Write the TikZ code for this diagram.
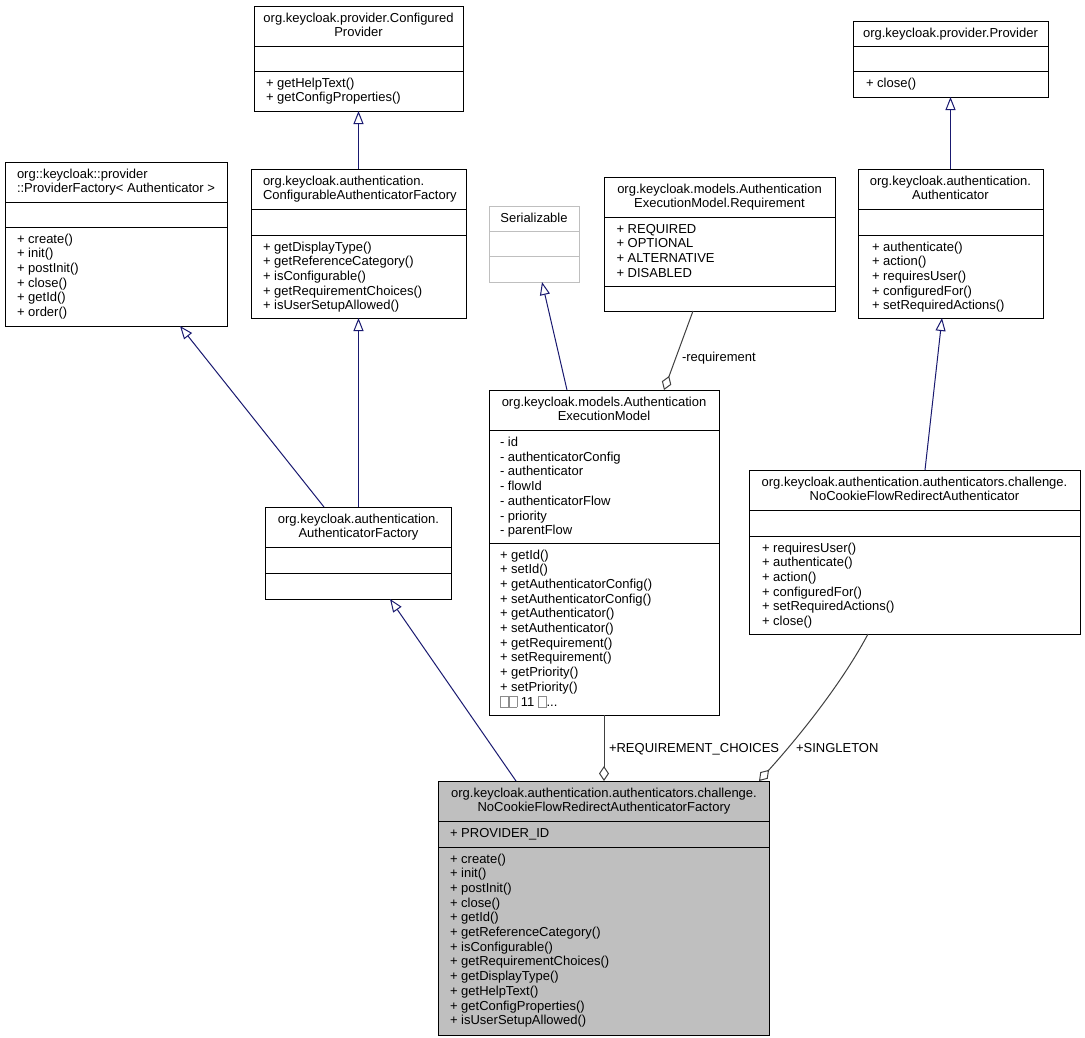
\documentclass[tikz,border=0pt]{standalone}
\usepackage{fontspec}
\setmainfont{Liberation Sans}
\usetikzlibrary{arrows.meta}
\definecolor{navyedge}{HTML}{191970}
\definecolor{grayedge}{HTML}{404040}
\definecolor{factfill}{HTML}{BFBFBF}
\definecolor{lightborder}{HTML}{BFBFBF}
\newcommand\threedots{...}
\newcommand\gb{\raisebox{-1pt}{\setlength\fboxsep{0pt}\setlength\fboxrule{0.7pt}\color{black!45}\fbox{\rule{0pt}{10.6pt}\hspace{7.2pt}}}}
\newcommand\clsbox[8]{%
  \node[umlbox,#8,minimum width={#4-#2},minimum height={#5-#3},anchor=north west] (#1) at (#2,#3) {};
  \draw[umlsep,#8,fill=none] (#2,#6) -- (#4,#6);
  \draw[umlsep,#8,fill=none] (#2,#7) -- (#4,#7);
}
\newcommand\tlines[5]{%
  \foreach \mytext [count=\myi] in {#5} {\node[txt,anchor=#4] (#1\myi) at ({#2},{#3+(\myi-1)*14.7}) {\mytext};}
}
\tikzset{
  umlbox/.style={draw=black,line width=1pt,inner sep=0pt,outer sep=0pt},
  umlsep/.style={draw=black,line width=1pt},
  txt/.style={inner sep=0pt,outer sep=0pt,font=\fontsize{13}{14.7}\selectfont,text=black},
  inh/.style={draw=navyedge,line width=1pt,-{Triangle[open,length=13pt,width=10pt,line width=1pt]}},
  agg/.style={draw=grayedge,line width=1pt,-{Diamond[open,length=15pt,width=10pt,line width=1pt]}},
}
\begin{document}
\begin{tikzpicture}[x=1pt,y=-1pt]
\fill[white] (0,0) rectangle (1085,1037);
\useasboundingbox (0,0) rectangle (1085,1037);

% ConfiguredProvider
\clsbox{cp}{254}{6}{463}{111}{46}{71}{}
\tlines{cpt}{358.5}{22}{base}{org.keycloak.provider.Configured,Provider}
\tlines{cpm}{266}{87}{base west}{+ getHelpText(),+ getConfigProperties()}

% ProviderFactory
\clsbox{pf}{5}{162}{227}{326}{202}{227}{}
\tlines{pft}{17}{178}{base west}{org::keycloak::provider,::ProviderFactory< Authenticator >}
\tlines{pfm}{17}{243}{base west}{+ create(),+ init(),+ postInit(),+ close(),+ getId(),+ order()}

% ConfigurableAuthenticatorFactory
\clsbox{caf}{251}{169}{466}{318}{209}{235}{}
\tlines{caft}{263}{185}{base west}{org.keycloak.authentication.,ConfigurableAuthenticatorFactory}
\tlines{cafm}{263}{251}{base west}{+ getDisplayType(),+ getReferenceCategory(),+ isConfigurable(),+ getRequirementChoices(),+ isUserSetupAllowed()}

% Serializable
\clsbox{ser}{489}{206}{579}{282}{231}{256}{draw=lightborder}
\tlines{sert}{534}{222}{base}{Serializable}

% Requirement
\clsbox{req}{604}{177}{835}{311}{217}{286}{}
\tlines{reqt}{719.5}{193}{base}{org.keycloak.models.Authentication,ExecutionModel.Requirement}
\tlines{reqm}{616.5}{233}{base west}{+ REQUIRED,+ OPTIONAL,+ ALTERNATIVE,+ DISABLED}

% Provider
\clsbox{prov}{853}{21}{1048}{97}{46}{71}{}
\tlines{provt}{950.5}{37}{base}{org.keycloak.provider.Provider}
\tlines{provm}{866}{87}{base west}{+ close()}

% Authenticator
\clsbox{auth}{858}{169}{1043}{318}{209}{235}{}
\tlines{autht}{950.5}{185}{base}{org.keycloak.authentication.,Authenticator}
\tlines{authm}{872}{251}{base west}{+ authenticate(),+ action(),+ requiresUser(),+ configuredFor(),+ setRequiredActions()}

% AuthenticationExecutionModel
\clsbox{aem}{489}{390}{719}{715}{430}{543}{}
\tlines{aemt}{604}{406}{base}{org.keycloak.models.Authentication,ExecutionModel}
\tlines{aema}{500}{446.5}{base west}{- id,- authenticatorConfig,- authenticator,- flowId,- authenticatorFlow,- priority,- parentFlow}
\tlines{aemm}{500}{559}{base west}{+ getId(),+ setId(),+ getAuthenticatorConfig(),+ setAuthenticatorConfig(),+ getAuthenticator(),+ setAuthenticator(),+ getRequirement(),+ setRequirement(),+ getPriority(),+ setPriority(),\gb\gb{} 11 \gb\threedots}

% NoCookieFlowRedirectAuthenticator
\clsbox{ncfa}{749}{470}{1080}{634}{510}{536}{}
\tlines{ncfat}{914.5}{486}{base}{org.keycloak.authentication.authenticators.challenge.,NoCookieFlowRedirectAuthenticator}
\tlines{ncfam}{762}{552}{base west}{+ requiresUser(),+ authenticate(),+ action(),+ configuredFor(),+ setRequiredActions(),+ close()}

% AuthenticatorFactory
\clsbox{af}{265.5}{507}{451.5}{599}{547}{573}{}
\tlines{aft}{358.5}{523}{base}{org.keycloak.authentication.,AuthenticatorFactory}

% NoCookieFlowRedirectAuthenticatorFactory
\clsbox{fac}{438.5}{781}{769.5}{1035}{821}{847}{fill=factfill}
\tlines{fact}{604}{797}{base}{org.keycloak.authentication.authenticators.challenge.,NoCookieFlowRedirectAuthenticatorFactory}
\tlines{facf}{450}{837}{base west}{+ PROVIDER\_ID}
\tlines{facm}{450}{863}{base west}{+ create(),+ init(),+ postInit(),+ close(),+ getId(),+ getReferenceCategory(),+ isConfigurable(),+ getRequirementChoices(),+ getDisplayType(),+ getHelpText(),+ getConfigProperties(),+ isUserSetupAllowed()}

% inheritance
\draw[inh] (caf.north) -- (cp.south);
\draw[inh] (auth.north) -- (prov.south);
\draw[inh] ([xshift=93pt]af.north west) -- ([xshift=107.5pt]caf.south west);
\draw[inh] ([xshift=58.5pt]af.north west) -- ([xshift=175pt]pf.south west);
\draw[inh] ([xshift=77.5pt]fac.north west) -- ([xshift=124.5pt]af.south west);
\draw[inh] ([xshift=78pt]aem.north west) -- ([xshift=53pt]ser.south west);
\draw[inh] ([xshift=176pt]ncfa.north west) -- ([xshift=84pt]auth.south west);

% aggregation
\draw[agg] ([xshift=89pt]req.south west) -- ([xshift=175pt]aem.north west);
\draw[agg] (aem.south) -- (fac.north);
\draw[agg] ([xshift=119pt]ncfa.south west) .. controls (848,672) and (812,722) .. ([xshift=-10.5pt]fac.north east);

\node[txt,anchor=base west] (lreq) at (682,361) {-requirement};
\node[txt,anchor=base west] (lrc) at (609,752) {+REQUIREMENT\_CHOICES};
\node[txt,anchor=base west] (lsg) at (796,752) {+SINGLETON};
\end{tikzpicture}
\end{document}
